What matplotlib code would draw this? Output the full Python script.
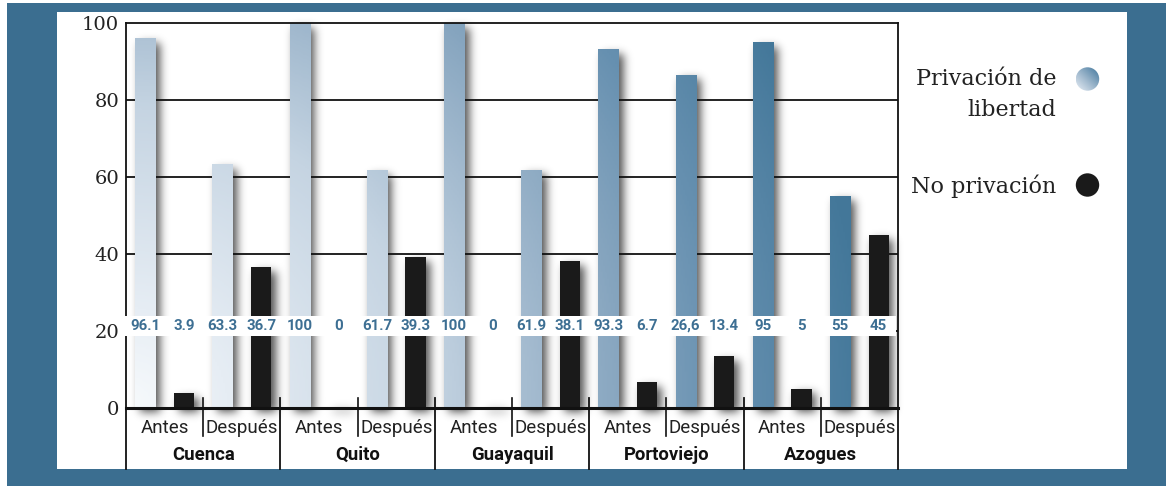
import numpy as np
import matplotlib
matplotlib.use("Agg")
import matplotlib.pyplot as plt
from matplotlib.colors import LinearSegmentedColormap
from matplotlib.patches import Rectangle, Circle

# ---------------- data ----------------
cities = ["Cuenca", "Quito", "Guayaquil", "Portoviejo", "Azogues"]
periods = ["Antes", "Después"]
privacion = [96.1, 63.3, 100, 61.7, 100, 61.9, 93.3, 86.6, 95, 55]      # per city: Antes, Después
no_privacion = [3.9, 36.7, 0, 39.3, 0, 38.1, 6.7, 13.4, 5, 45]
priv_labels = ["96.1", "63.3", "100", "61.7", "100", "61.9", "93.3", "26,6", "95", "55"]
nopriv_labels = ["3.9", "36.7", "0", "39.3", "0", "38.1", "6.7", "13.4", "5", "45"]
yticks = [0, 20, 40, 60, 80, 100]
legend_labels = ["Privación de\nlibertad", "No privación"]

# ---------------- figure ----------------
W, H = 1166, 486
fig = plt.figure(figsize=(W / 100, H / 100), dpi=100)
BLUE = "#3b6e90"
LABEL_BLUE = "#3d6f93"
BLACK_BAR = "#1a1a1a"

bg = fig.add_axes([0, 0, 1, 1], zorder=0)
bg.set_xlim(0, W)
bg.set_ylim(H, 0)
bg.axis("off")
bg.add_patch(Rectangle((7, 3), W - 7, H - 3, facecolor=BLUE, edgecolor="none"))
bg.add_patch(Rectangle((57, 12), 1127 - 57, 468.5 - 12, facecolor="white", edgecolor="none"))

ax_l, ax_r, ax_t, ax_b = 126, 898, 23, 408
ax = fig.add_axes([ax_l / W, 1 - ax_b / H, (ax_r - ax_l) / W, (ax_b - ax_t) / H], zorder=1)
ax.patch.set_alpha(0)
n_slots = 20
ax.set_xlim(-0.5, n_slots - 0.5)
ax.set_ylim(0, 100)
pxx = (ax_r - ax_l) / n_slots   # px per x unit
pxy = (ax_b - ax_t) / 100.0     # px per y unit

# slot positions: per city -> Antes priv, Antes no, Después priv, Después no
priv_x = []
nopriv_x = []
for c in range(len(cities)):
    for p in range(2):
        priv_x.append(4 * c + 2 * p)
        nopriv_x.append(4 * c + 2 * p + 1)
priv_x = np.array(priv_x)
nopriv_x = np.array(nopriv_x)
bw = 0.52

# ---------------- shadows ----------------
x0d, x1d, y0d, y1d = -0.5, 19.9, -6, 104
nx = int((x1d - x0d) * pxx)
ny = int((y1d - y0d) * pxy)
xs = np.linspace(x0d, x1d, nx)
ys = np.linspace(y1d, y0d, ny)
XX, YY = np.meshgrid(xs, ys)
mask = np.zeros_like(XX)
offx = 4.5 / pxx
offy = 5.0 / pxy
for xc, h in list(zip(priv_x, privacion)) + list(zip(nopriv_x, no_privacion)):
    if h <= 0:
        h = 0.6
    m = (XX >= xc - bw / 2 + offx) & (XX <= xc + bw / 2 + offx) & (YY <= h - offy) & (YY >= -offy)
    mask[m] = 1.0
sig = 4.5
kx = np.arange(-14, 15)
kern = np.exp(-kx ** 2 / (2 * sig ** 2))
kern /= kern.sum()
blur = np.apply_along_axis(lambda r: np.convolve(r, kern, mode="same"), 1, mask)
blur = np.apply_along_axis(lambda r: np.convolve(r, kern, mode="same"), 0, blur)
shadow = np.zeros((ny, nx, 4))
shadow[..., 3] = 0.68 * blur
ax.imshow(shadow, extent=(x0d, x1d, y0d, y1d), aspect="auto", zorder=1,
          interpolation="bilinear", clip_on=False)

# ---------------- grid and spines ----------------
for yv in yticks[1:-1]:
    ax.axhline(yv, color="#111111", lw=1.3, zorder=1.5)
ax.set_yticks(yticks)
ax.set_yticklabels([str(v) for v in yticks], family="DejaVu Serif", fontsize=14, color="#222222")
ax.tick_params(axis="y", length=0, pad=5)
ax.set_xticks([])
for s in ["left", "top", "right"]:
    ax.spines[s].set_linewidth(1.3)
    ax.spines[s].set_color("#111111")
ax.spines["bottom"].set_linewidth(2.2)
ax.spines["bottom"].set_color("#111111")
ax.spines["bottom"].set_zorder(3)

# ---------------- bars ----------------
stops_d = [0, 100, 300, 430, 500, 600, 740, 880]
stops_c = ["#f7fafc", "#e6edf4", "#c5d4e2", "#9cb5cb", "#86a5bf", "#6690b0", "#44789a", "#3a6d8f"]
cmap = LinearSegmentedColormap.from_list(
    "grad", [(d / stops_d[-1], c) for d, c in zip(stops_d, stops_c)])
gx = np.linspace(-0.5, 19.5, 400)
gy = np.linspace(100, 0, 300)
GX, GY = np.meshgrid(gx, gy)
dist = np.hypot((GX + 0.5) * pxx, GY * pxy) / stops_d[-1]
grad_img = cmap(np.clip(dist, 0, 1))

priv_bars = ax.bar(priv_x, privacion, width=bw, color="none", edgecolor="none", zorder=2)
for b in priv_bars:
    im = ax.imshow(grad_img, extent=(-0.5, 19.5, 0, 100), aspect="auto", zorder=2,
                   interpolation="bilinear")
    im.set_clip_path(b)
ax.bar(nopriv_x, no_privacion, width=bw, color=BLACK_BAR, edgecolor="none", zorder=2)
ax.set_xlim(-0.5, n_slots - 0.5)
ax.set_ylim(0, 100)

# ---------------- value band ----------------
band_lo = (ax_b - 336) / pxy
band_hi = (ax_b - 316) / pxy
ax.add_patch(Rectangle((-0.53, band_lo), 19.99, band_hi - band_lo, facecolor="white",
                       edgecolor="none", zorder=4, clip_on=False))
band_mid = (band_lo + band_hi) / 2
for xc, t in list(zip(priv_x, priv_labels)) + list(zip(nopriv_x, nopriv_labels)):
    ax.text(xc, band_mid, t, ha="center", va="center", color=LABEL_BLUE, fontsize=10.8,
            family="Roboto", fontweight="bold", zorder=5)

# ---------------- category axis ----------------
def ypx(p):
    return (ax_b - p) / pxy

for c, city in enumerate(cities):
    for p, per in enumerate(periods):
        ax.text(4 * c + 2 * p + 0.5, ypx(428), per, ha="center", va="center",
                family="Roboto", fontsize=13.5, color="#222222", clip_on=False)
    ax.text(4 * c + 1.5, ypx(455), city, ha="center", va="center", family="Roboto",
            fontweight="bold", fontsize=13.3, color="#111111", clip_on=False)
    ax.plot([4 * c + 1.5] * 2, [ypx(398), ypx(436)], color="#111111", lw=1.2,
            clip_on=False, zorder=3)
for xv in [-0.5, 3.5, 7.5, 11.5, 15.5, 19.5]:
    ax.plot([xv] * 2, [ypx(398) if 0 < xv < 19 else 0, ypx(468.5)], color="#111111",
            lw=1.3, clip_on=False, zorder=3)

# ---------------- legend ----------------
leg_font = dict(family="DejaVu Serif", fontsize=16, color="#222222")
bg.text(1056, 68, legend_labels[0], ha="right", va="top", linespacing=1.5, **leg_font)
bg.text(1056, 186, legend_labels[1], ha="right", va="center", **leg_font)
# gradient circle
circ = Circle((1087.5, 79), 11.7, facecolor="none", edgecolor="none")
bg.add_patch(circ)
cx = np.linspace(0, 1, 60)
CX, CY = np.meshgrid(cx, cx)
legc = LinearSegmentedColormap.from_list("lc", ["#e8eef5", "#9fb8cd", "#4f80a3"])
cimg = legc(np.clip((CX + (1 - CY)) / 2 * 1.1, 0, 1))
cim = bg.imshow(cimg, extent=(1075.8, 1099.2, 90.7, 67.3), aspect="auto", zorder=2)
cim.set_clip_path(circ)
bg.set_xlim(0, W)
bg.set_ylim(H, 0)
bg.add_patch(Circle((1087.5, 185), 11.7, facecolor=BLACK_BAR, edgecolor="none", zorder=2))

fig.savefig("out.png", dpi=100)
